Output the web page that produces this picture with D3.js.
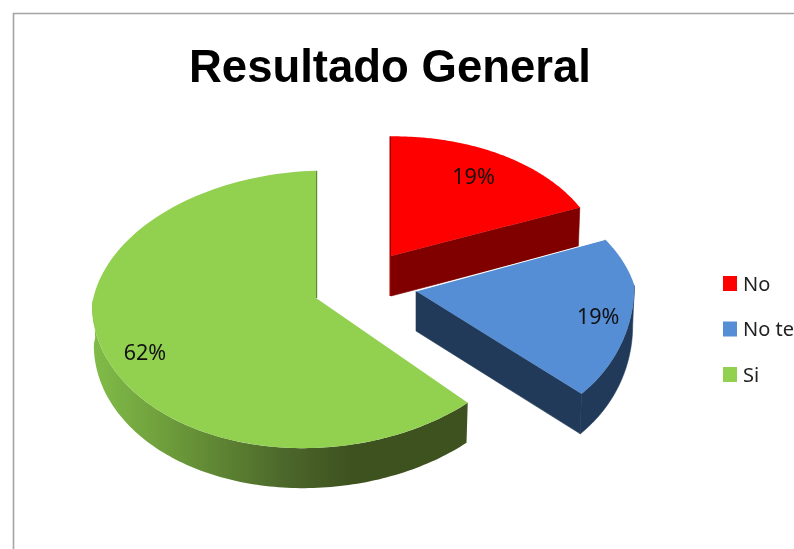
<!DOCTYPE html>
<html><head><meta charset="utf-8">
<script src="https://cdnjs.cloudflare.com/ajax/libs/d3/7.8.5/d3.min.js"></script>
<style>html,body{margin:0;padding:0;background:#fff;overflow:hidden}svg{display:block;filter:blur(.45px)}</style>
</head><body><svg id="c" width="794" height="549"></svg>
<script>
const title = "Resultado General";
const categories = ["No", "No te", "Si"];
const values = [19, 19, 62];
const labels = ["19%", "19%", "62%"];

const W = 794, H = 549;
const topColors = ["#ff0000", "#558ed5", "#92d050"];
const wallColors = ["#800000", "#223a5a", "#3e5220"];
const layout = [
  {cx: 391, cy: 256, sx: .94,  sy: .94, shear: -.01,  K: .1, fan: 0,   lab: .74, labDy: -4},
  {cx: 416, cy: 291, sx: .975, sy: .975, shear: -.025, K: .2, fan: 30,  lab: .85, labDy: 2},
  {cx: 316, cy: 298, sx: 1,    sy: 1,   shear: -.03,  K: .1, fan: -3, lab: .82, labDy: 3}
];
const RX = 224, DEPTH = 40;
const X = d3.scaleLinear().domain([-1, 1]).range([-RX, RX]);
const Y = d3.scaleLinear().domain([-1, 0, 1]).range([-140, 0, 150]);

function project(l, t, r, d) {
  const x0 = r * Math.sin(t), y0 = -r * Math.cos(t), w = 1 - l.K * Math.min(y0, 0);
  const px = X(x0 / w), py = Y(y0 / w);
  const z = d ? .992 : 1;
  return [l.cx + l.sx * px * z + l.fan * y0 * Math.max(y0, 0), l.cy + l.sy * py + l.shear * l.sx * px + (d || 0)];
}
const pie = d3.pie().sort(null).value(d => d);
const arcs = pie(values);
const line = d3.line();
const svg = d3.select("#c");

const defs = svg.append("defs");
const g = defs.append("linearGradient").attr("id", "gw").attr("gradientUnits", "userSpaceOnUse")
  .attr("x1", 95).attr("x2", 470).attr("y1", 0).attr("y2", 0);
[[0, "#80bb48"], [.18, "#6f9f3c"], [.5, "#4c682a"], [.68, "#3e5220"], [1, "#3e5220"]]
  .forEach(([o, c]) => g.append("stop").attr("offset", o).attr("stop-color", c));

svg.append("path").attr("d", line([[794, 13.5], [13.5, 13.5], [13.5, 549]]))
  .attr("fill", "none").attr("stroke", "#a3a3a3").attr("stroke-width", 1.6);

const rim = (l, a0, a1, d) => d3.range(0, 121).map(i => project(l, a0 + (a1 - a0) * i / 120, 1, d));

// slices are painted back to front: green, red, blue
[2, 0, 1].forEach(i => {
  const a = arcs[i], l = layout[i], gs = svg.append("g");
  const a0 = a.startAngle, a1 = a.endAngle;
  const apex = project(l, 0, 0), apexB = project(l, 0, 0, DEPTH);
  if (i === 2) {
    const end = Math.PI * 1.5 + .05;
    const top = rim(l, a0, end), bot = rim(l, a0, end, DEPTH).reverse();
    gs.append("path").attr("d", line(top.concat(bot)) + "Z").attr("fill", "url(#gw)");
    gs.append("path").attr("d", line([apex, project(l, a1, 1), [project(l, a1, 1)[0] + 1.2, project(l, a1, 1)[1]], [apex[0] + 1.2, apex[1]]]) + "Z").attr("fill", "#5d8a33");
  } else {
    const endP = project(l, a1, 1), endB = project(l, a1, 1, DEPTH);
    const c = wallColors[i];
    gs.append("path").attr("d", line([apex, endP, endB, apexB]) + "Z").attr("fill", c).attr("stroke", c).attr("stroke-width", .6);
    if (i === 1) {
      const end = Math.PI * .5;
      gs.append("path").attr("d", line(rim(l, end, a1).concat(rim(l, end, a1, DEPTH).reverse())) + "Z").attr("fill", c).attr("stroke", c).attr("stroke-width", .6);
    } else {
      gs.append("path").attr("d", line([apex, project(l, 0, 1), [project(l, 0, 1)[0] - 1.5, project(l, 0, 1)[1]], [apexB[0] - 1.5, apexB[1]], apexB]) + "Z").attr("fill", "#a00000");
    }
  }
  const face = [apex].concat(rim(l, a0, a1));
  gs.append("path").attr("d", line(face) + "Z").attr("fill", topColors[i]);
  if (i === 1) gs.append("path").attr("d", line([apex, project(l, a0, 1)])).attr("stroke", "#fff").attr("stroke-width", 1).attr("fill", "none");
  const mid = (a0 + a1) / 2, p = project(l, mid, l.lab);
  gs.append("text").attr("x", p[0]).attr("y", p[1] + l.labDy).attr("text-anchor", "middle").attr("dominant-baseline", "central")
    .attr("font-family", "'Noto Sans','Open Sans',sans-serif").attr("font-size", 21.5).attr("fill", "#111").text(labels[i]);
});

svg.append("text").attr("x", 390).attr("y", 82).attr("text-anchor", "middle")
  .attr("font-family", "'Liberation Sans',Arial,sans-serif").attr("font-weight", 700).attr("font-size", 45.5).attr("fill", "#000").text(title);

const lg = svg.selectAll("g.lg").data(categories).join("g").attr("class", "lg")
  .attr("transform", (d, i) => `translate(723,${276 + i * 45.5})`);
lg.append("rect").attr("width", 14).attr("height", 15).attr("fill", (d, i) => topColors[i]);
lg.append("text").attr("x", 20).attr("y", 14.5).attr("font-family", "'Noto Sans','Open Sans',sans-serif")
  .attr("font-size", 20).attr("fill", "#222").text(d => d);
</script></body></html>
